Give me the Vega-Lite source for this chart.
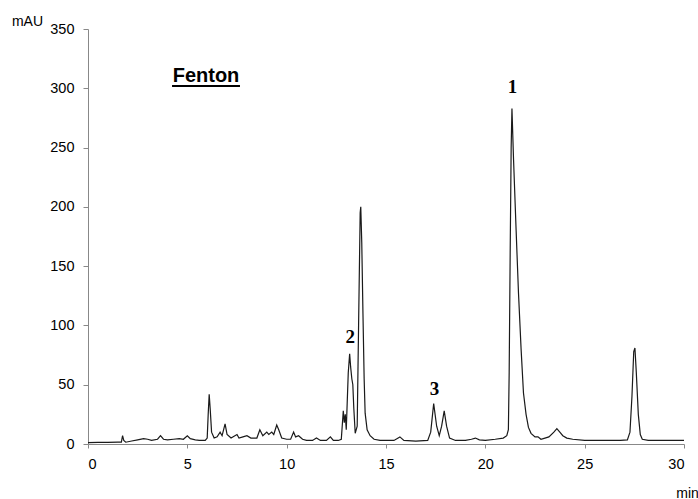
{
  "$schema": "https://vega.github.io/schema/vega-lite/v6.json",
  "width": 596,
  "height": 415,
  "autosize": {"type": "none"},
  "padding": {"left": 88, "top": 29, "right": 14, "bottom": 55},
  "background": "white",
  "config": {
    "view": {"stroke": null},
    "axis": {
      "grid": false,
      "domainColor": "#888888",
      "tickColor": "#888888",
      "labelFont": "Liberation Sans",
      "labelFontSize": 14.5,
      "labelColor": "#000000",
      "titleFont": "Liberation Sans",
      "titleFontSize": 14,
      "titleFontWeight": "normal",
      "titleColor": "#000000"
    }
  },
  "datasets": {
    "trace": [
      {"time": 0.0, "mAU": 1.2}, {"time": 0.5, "mAU": 1.3}, {"time": 1.0, "mAU": 1.4}, {"time": 1.5, "mAU": 1.5},
      {"time": 1.68, "mAU": 1.6}, {"time": 1.74, "mAU": 7}, {"time": 1.8, "mAU": 3}, {"time": 1.9, "mAU": 1.5},
      {"time": 2.2, "mAU": 2.5}, {"time": 2.5, "mAU": 3.5}, {"time": 2.8, "mAU": 4.5}, {"time": 3.0, "mAU": 4},
      {"time": 3.2, "mAU": 3}, {"time": 3.5, "mAU": 4}, {"time": 3.65, "mAU": 7}, {"time": 3.8, "mAU": 4},
      {"time": 4.0, "mAU": 3.5}, {"time": 4.3, "mAU": 4}, {"time": 4.6, "mAU": 4.5}, {"time": 4.8, "mAU": 4},
      {"time": 5.0, "mAU": 7}, {"time": 5.15, "mAU": 4.5}, {"time": 5.4, "mAU": 3.5}, {"time": 5.6, "mAU": 3},
      {"time": 5.9, "mAU": 3}, {"time": 6.0, "mAU": 5}, {"time": 6.05, "mAU": 25}, {"time": 6.1, "mAU": 42},
      {"time": 6.15, "mAU": 30}, {"time": 6.22, "mAU": 10}, {"time": 6.35, "mAU": 5}, {"time": 6.5, "mAU": 6},
      {"time": 6.65, "mAU": 10}, {"time": 6.75, "mAU": 7}, {"time": 6.9, "mAU": 17}, {"time": 7.0, "mAU": 8},
      {"time": 7.2, "mAU": 5}, {"time": 7.5, "mAU": 8}, {"time": 7.6, "mAU": 5}, {"time": 7.8, "mAU": 6},
      {"time": 8.0, "mAU": 7}, {"time": 8.2, "mAU": 5}, {"time": 8.5, "mAU": 5}, {"time": 8.65, "mAU": 12},
      {"time": 8.8, "mAU": 7}, {"time": 9.0, "mAU": 10}, {"time": 9.1, "mAU": 8}, {"time": 9.25, "mAU": 10},
      {"time": 9.35, "mAU": 8}, {"time": 9.5, "mAU": 16}, {"time": 9.6, "mAU": 12}, {"time": 9.75, "mAU": 5},
      {"time": 10.0, "mAU": 4}, {"time": 10.2, "mAU": 4}, {"time": 10.35, "mAU": 10}, {"time": 10.45, "mAU": 6},
      {"time": 10.6, "mAU": 7}, {"time": 10.8, "mAU": 4}, {"time": 11.0, "mAU": 3}, {"time": 11.3, "mAU": 3},
      {"time": 11.5, "mAU": 5}, {"time": 11.7, "mAU": 3}, {"time": 12.0, "mAU": 3}, {"time": 12.2, "mAU": 6},
      {"time": 12.35, "mAU": 3}, {"time": 12.6, "mAU": 3}, {"time": 12.75, "mAU": 4}, {"time": 12.85, "mAU": 28},
      {"time": 12.9, "mAU": 18}, {"time": 12.95, "mAU": 25}, {"time": 13.0, "mAU": 12}, {"time": 13.1, "mAU": 60},
      {"time": 13.17, "mAU": 76}, {"time": 13.22, "mAU": 65}, {"time": 13.28, "mAU": 55}, {"time": 13.33, "mAU": 50},
      {"time": 13.38, "mAU": 30}, {"time": 13.45, "mAU": 9}, {"time": 13.55, "mAU": 15}, {"time": 13.62, "mAU": 100},
      {"time": 13.7, "mAU": 195}, {"time": 13.73, "mAU": 200}, {"time": 13.78, "mAU": 170}, {"time": 13.84, "mAU": 110},
      {"time": 13.9, "mAU": 55}, {"time": 13.95, "mAU": 26}, {"time": 14.05, "mAU": 12}, {"time": 14.2, "mAU": 7},
      {"time": 14.4, "mAU": 4}, {"time": 14.7, "mAU": 3}, {"time": 15.0, "mAU": 3}, {"time": 15.4, "mAU": 3},
      {"time": 15.7, "mAU": 6}, {"time": 15.9, "mAU": 3}, {"time": 16.5, "mAU": 2.5}, {"time": 17.1, "mAU": 3},
      {"time": 17.25, "mAU": 10}, {"time": 17.4, "mAU": 34}, {"time": 17.55, "mAU": 15}, {"time": 17.68, "mAU": 7},
      {"time": 17.8, "mAU": 15}, {"time": 17.93, "mAU": 28}, {"time": 18.05, "mAU": 15}, {"time": 18.2, "mAU": 5},
      {"time": 18.5, "mAU": 3}, {"time": 19.0, "mAU": 3}, {"time": 19.3, "mAU": 4}, {"time": 19.5, "mAU": 5},
      {"time": 19.7, "mAU": 3.5}, {"time": 20.0, "mAU": 3}, {"time": 20.5, "mAU": 4}, {"time": 20.9, "mAU": 5},
      {"time": 21.08, "mAU": 7}, {"time": 21.16, "mAU": 12}, {"time": 21.2, "mAU": 60}, {"time": 21.25, "mAU": 160},
      {"time": 21.3, "mAU": 250}, {"time": 21.34, "mAU": 283}, {"time": 21.42, "mAU": 240}, {"time": 21.55, "mAU": 180},
      {"time": 21.67, "mAU": 127}, {"time": 21.8, "mAU": 80}, {"time": 21.92, "mAU": 43}, {"time": 22.05, "mAU": 25},
      {"time": 22.17, "mAU": 14}, {"time": 22.3, "mAU": 9}, {"time": 22.5, "mAU": 6}, {"time": 22.65, "mAU": 6},
      {"time": 22.8, "mAU": 4}, {"time": 23.0, "mAU": 5}, {"time": 23.2, "mAU": 6}, {"time": 23.45, "mAU": 10},
      {"time": 23.6, "mAU": 13}, {"time": 23.75, "mAU": 10}, {"time": 23.9, "mAU": 7}, {"time": 24.1, "mAU": 5},
      {"time": 24.4, "mAU": 4}, {"time": 25.0, "mAU": 3}, {"time": 26.0, "mAU": 3}, {"time": 26.8, "mAU": 3},
      {"time": 27.15, "mAU": 3.5}, {"time": 27.28, "mAU": 10}, {"time": 27.38, "mAU": 40}, {"time": 27.47, "mAU": 78},
      {"time": 27.53, "mAU": 81}, {"time": 27.6, "mAU": 60}, {"time": 27.7, "mAU": 25}, {"time": 27.8, "mAU": 8},
      {"time": 27.9, "mAU": 4}, {"time": 28.2, "mAU": 3}, {"time": 29.0, "mAU": 3}, {"time": 30.0, "mAU": 3}
    ],
    "peaks": [
      {"time": 21.37, "mAU": 301, "label": "1"},
      {"time": 13.2, "mAU": 90, "label": "2"},
      {"time": 17.44, "mAU": 46, "label": "3"}
    ],
    "title": [
      {"time": 5.94, "mAU": 310, "label": "Fenton"}
    ],
    "underline": [
      {"time": 4.23, "time2": 7.65, "mAU": 302}
    ]
  },
  "layer": [
    {
      "data": {"name": "trace"},
      "mark": {"type": "line", "color": "#1a1a1a", "strokeWidth": 1.2},
      "encoding": {
        "x": {
          "field": "time", "type": "quantitative",
          "scale": {"domain": [0, 30], "nice": false, "zero": false},
          "axis": {
            "values": [0, 5, 10, 15, 20, 25, 30],
            "tickSize": 4, "labelPadding": 9,
            "title": "min", "titleX": 599, "titleY": 49,
            "titleAlign": "center", "titleBaseline": "middle"
          }
        },
        "y": {
          "field": "mAU", "type": "quantitative",
          "scale": {"domain": [0, 350], "nice": false},
          "axis": {
            "values": [0, 50, 100, 150, 200, 250, 300, 350],
            "tickSize": 5, "labelPadding": 9,
            "title": "mAU", "titleAngle": 0, "titleX": -61, "titleY": -8,
            "titleAlign": "center", "titleBaseline": "middle"
          }
        }
      }
    },
    {
      "data": {"name": "peaks"},
      "mark": {"type": "text", "font": "Liberation Serif", "fontSize": 19, "fontWeight": "bold", "color": "#000000", "baseline": "middle", "align": "center"},
      "encoding": {
        "x": {"field": "time", "type": "quantitative"},
        "y": {"field": "mAU", "type": "quantitative"},
        "text": {"field": "label"}
      }
    },
    {
      "data": {"name": "title"},
      "mark": {"type": "text", "font": "Liberation Sans", "fontSize": 20, "fontWeight": "bold", "color": "#000000", "baseline": "middle", "align": "center"},
      "encoding": {
        "x": {"field": "time", "type": "quantitative"},
        "y": {"field": "mAU", "type": "quantitative"},
        "text": {"field": "label"}
      }
    },
    {
      "data": {"name": "underline"},
      "mark": {"type": "rule", "color": "#000000", "strokeWidth": 2},
      "encoding": {
        "x": {"field": "time", "type": "quantitative"},
        "x2": {"field": "time2"},
        "y": {"field": "mAU", "type": "quantitative"}
      }
    }
  ]
}
